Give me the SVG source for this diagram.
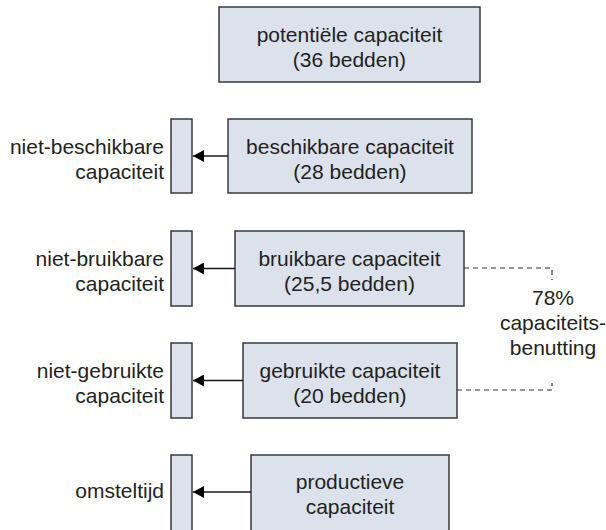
<svg xmlns="http://www.w3.org/2000/svg" width="606" height="530" viewBox="0 0 606 530">
<style>
.box{fill:#dbe2ec;stroke:#3a3a3a;stroke-width:1.5}
.t{font-family:"Liberation Sans",Arial,sans-serif;font-size:21px;fill:#231f20}
.c{text-anchor:middle}
.r{text-anchor:end}
.ln{stroke:#1a1a1a;stroke-width:1.5;fill:none}
.dash{stroke:#333;stroke-width:1.2;fill:none;stroke-dasharray:5 4}
</style>
<defs>
<marker id="ah" markerWidth="11" markerHeight="12" refX="11" refY="6" orient="auto" markerUnits="userSpaceOnUse">
<path d="M0,0 L11,6 L0,12 Z" fill="#000"/>
</marker>
</defs>
<rect width="606" height="530" fill="#fff"/>
<g id="potentieel">
<rect class="box" x="219" y="7" width="261" height="75"/>
<text class="t c" x="349.5" y="42">potentiële capaciteit</text>
<text class="t c" x="349.5" y="67">(36 bedden)</text>
</g>
<g id="beschikbaar">
<rect class="box" x="228" y="119" width="244" height="74"/>
<text class="t c" x="350" y="154">beschikbare capaciteit</text>
<text class="t c" x="350" y="179">(28 bedden)</text>
</g>
<g id="niet-beschikbaar">
<rect class="box" x="171" y="119" width="21" height="74"/>
<text class="t r" x="164" y="154">niet-beschikbare</text>
<text class="t r" x="164" y="179">capaciteit</text>
</g>
<g id="bruikbaar">
<rect class="box" x="235" y="231" width="229" height="75"/>
<text class="t c" x="349.5" y="266">bruikbare capaciteit</text>
<text class="t c" x="349.5" y="291">(25,5 bedden)</text>
</g>
<g id="niet-bruikbaar">
<rect class="box" x="171" y="231" width="21" height="75"/>
<text class="t r" x="164" y="266">niet-bruikbare</text>
<text class="t r" x="164" y="291">capaciteit</text>
</g>
<g id="gebruikt">
<rect class="box" x="243" y="343" width="214" height="75"/>
<text class="t c" x="350" y="378">gebruikte capaciteit</text>
<text class="t c" x="350" y="403">(20 bedden)</text>
</g>
<g id="niet-gebruikt">
<rect class="box" x="171" y="343" width="21" height="75"/>
<text class="t r" x="164" y="378">niet-gebruikte</text>
<text class="t r" x="164" y="403">capaciteit</text>
</g>
<g id="productief">
<rect class="box" x="251" y="455" width="198" height="76"/>
<text class="t c" x="350" y="489">productieve</text>
<text class="t c" x="350" y="514">capaciteit</text>
</g>
<g id="omsteltijd">
<rect class="box" x="171" y="455" width="21" height="76"/>
<text class="t r" x="164" y="498">omsteltijd</text>
</g>
<g id="benutting">
<text class="t c" x="553" y="305">78%</text>
<text class="t c" x="553" y="330">capaciteits-</text>
<text class="t c" x="553" y="355">benutting</text>
</g>
<g id="connectors">
<line class="ln" x1="228" y1="156" x2="193" y2="156" marker-end="url(#ah)"/>
<line class="ln" x1="235" y1="268.5" x2="193" y2="268.5" marker-end="url(#ah)"/>
<line class="ln" x1="243" y1="380.5" x2="193" y2="380.5" marker-end="url(#ah)"/>
<line class="ln" x1="251" y1="492" x2="193" y2="492" marker-end="url(#ah)"/>
<path class="dash" d="M464,268 H552 V280"/>
<path class="dash" d="M457,390 H552 V383"/>
</g>
</svg>
